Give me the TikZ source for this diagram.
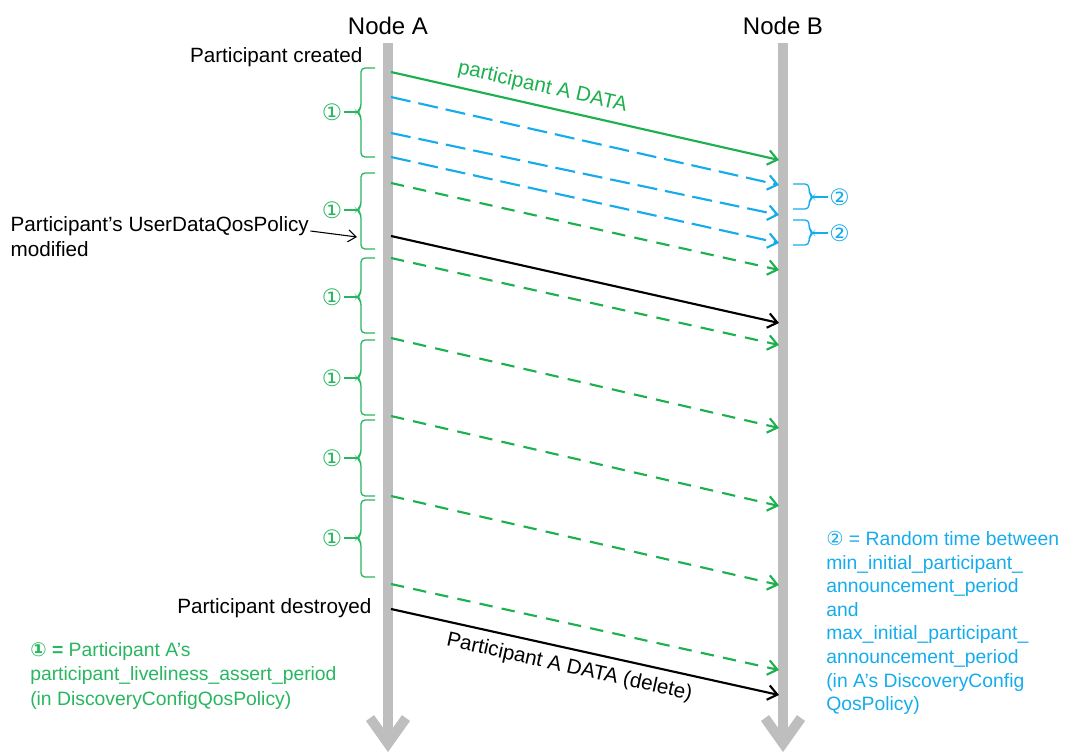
\documentclass[tikz,border=0pt]{standalone}
\usepackage{fontspec}
\setmainfont{Liberation Sans}
\newfontfamily\markfont{DejaVu Sans}
\usetikzlibrary{arrows.meta, positioning}
\definecolor{msggreen}{RGB}{28,176,78}
\definecolor{txtgreen}{RGB}{40,182,96}
\definecolor{msgblue}{RGB}{22,172,236}
\definecolor{lifegray}{RGB}{190,190,190}
\tikzset{
  head/.style={font=\fontsize{18}{20}\selectfont, inner sep=3pt},   % Node A / Node B
  txt/.style={inner sep=1pt},
  lifeline/.style={lifegray, line width=7.5pt,
    -{Straight Barb[length=19pt,width=27pt]}},
  msg/.style={line width=1.6pt, -{Straight Barb[length=7pt,width=11pt]}},
  greensolid/.style={msg, msggreen},
  greendash/.style={msg, msggreen, dash pattern=on 10pt off 7pt},
  bluedash/.style={msg, msgblue, dash pattern=on 15pt off 6pt},
  blacksolid/.style={msg, black},
  pointer/.style={line width=0.8pt, -{Straight Barb[length=6pt,width=9pt]}},
  bracket/.style={line width=1pt, rounded corners=3pt},
  periodmark/.style={font=\markfont\fontsize{17}{19}\selectfont, inner sep=1pt},
  legend/.style={align=left, inner sep=0pt,
    font=\fontsize{14.5}{18.5}\selectfont}
}

\begin{document}
\begin{tikzpicture}[x=0.75pt, y=-0.75pt, font=\fontsize{15.5}{18}\selectfont]
    \useasboundingbox (0,0) rectangle (1070,756);

    % Lifelines of the two nodes
    \coordinate (topA) at (388,43);
    \coordinate (topB) at (783,43);
    \coordinate (endA) at (388,752);
    \coordinate (endB) at (783,752);
    \node[head, above=3pt of topA] (nodeA) {Node A};
    \node[head, above=3pt of topB] (nodeB) {Node B};
    \draw[lifeline] (topA) -- (endA);
    \draw[lifeline] (topB) -- (endB);

    % Send and arrival points of the messages
    \foreach \n/\ya/\yb in {1/72/160, 2/97/185, 3/133/215, 4/157/243,
        5/183/270, 6/236/323, 7/258/345, 8/338/428, 9/416/506,
        10/496/585, 11/584/670, 12/609/695}{
      \coordinate (a\n) at (391,\ya);
      \coordinate (b\n) at (779,\yb);
    }

    % Messages from A to B
    \draw[greensolid] (a1) -- (b1)
      node[pos=0.38, sloped, above=5pt, msggreen, inner sep=1pt] (msgData) {participant A DATA};
    \draw[bluedash] (a2) -- (b2);
    \draw[bluedash] (a3) -- (b3);
    \draw[bluedash] (a4) -- (b4);
    \draw[greendash] (a5) -- (b5);
    \draw[blacksolid] (a6) -- (b6);
    \draw[greendash] (a7) -- (b7);
    \draw[greendash] (a8) -- (b8);
    \draw[greendash] (a9) -- (b9);
    \draw[greendash] (a10) -- (b10);
    \draw[greendash] (a11) -- (b11);
    \draw[blacksolid] (a12) -- (b12)
      node[pos=0.47, sloped, below=5pt, inner sep=1pt] (msgDelete) {Participant A DATA (delete)};

    % Periods on the side of node A
    \foreach \n/\yt/\yb/\ym in {1/68/157/112, 2/173/249/210, 3/258/333/297,
        4/340/415/378, 5/420/496/458, 6/500/577/538}{
      \draw[bracket, txtgreen] (375,\yt) -- (361,\yt) -- (361,{\ym-4})
        -- (357,\ym) -- (361,{\ym+4}) -- (361,\yb) -- (375,\yb);
      \coordinate (tipA\n) at (357,\ym);
      \node[periodmark, txtgreen, left=10pt of tipA\n] (markA\n) {①};
      \draw[txtgreen, line width=1pt] (markA\n) -- (tipA\n);
    }

    % Random delays on the side of node B
    \foreach \n/\yt/\yb/\ym in {1/184/209/197, 2/220/245/233}{
      \draw[bracket, msgblue] (793,\yt) -- (809,\yt) -- (809,{\ym-4})
        -- (813,\ym) -- (809,{\ym+4}) -- (809,\yb) -- (793,\yb);
      \coordinate (tipB\n) at (813,\ym);
      \node[periodmark, msgblue, right=11pt of tipB\n] (markB\n) {②};
      \draw[msgblue, line width=1pt] (tipB\n) -- (markB\n);
    }

    % Events at node A
    \node[txt, anchor=base east] (created) at (364,63) {Participant created};
    \node[txt, anchor=base east] (destroyed) at (373,613) {Participant destroyed};
    \node[txt, anchor=base west] (modA) at (9,231) {Participant’s UserDataQosPolicy};
    \node[txt, anchor=base west] (modB) at (9,256) {modified};
    \coordinate (modTip) at (357,237);
    \draw[pointer] (modA.base east) -- (modTip);

    % Legends
    \node[legend, txtgreen, anchor=north west] (legendA) at (30,642)
      {{\markfont\bfseries ①} {\bfseries =} Participant A’s\\
       participant\_liveliness\_assert\_period\\
       (in DiscoveryConfigQosPolicy)};
    \node[legend, msgblue, anchor=north west, font=\fontsize{14.5}{17.7}\selectfont] (legendB) at (826,531)
      {{\markfont ②} = Random time between\\
       min\_initial\_participant\_\\
       announcement\_period\\
       and\\
       max\_initial\_participant\_\\
       announcement\_period\\
       (in A’s DiscoveryConfig\\
       QosPolicy)};
\end{tikzpicture}
\end{document}
